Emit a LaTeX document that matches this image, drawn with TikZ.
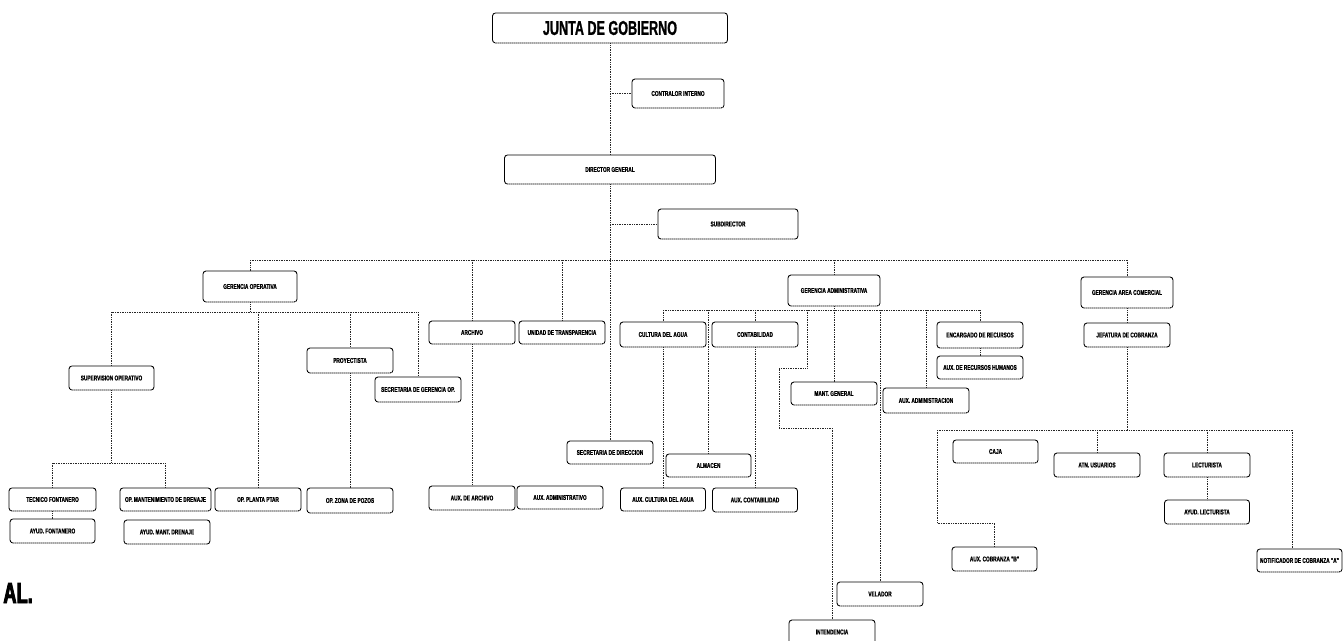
\documentclass[tikz,border=0pt]{standalone}
\usepackage{fontspec}
\newfontfamily\boxfont[FakeStretch=0.68,FakeBold=0.8]{Liberation Sans}
\newfontfamily\titlefont[FakeStretch=0.63,FakeBold=1]{Liberation Sans}
\newfontfamily\heavyfont[FakeStretch=0.63,FakeBold=3]{Liberation Sans}
\tikzset{
  orgbox/.style={draw=black, line width=0.9pt, dash pattern=on 1.6pt off 0.4pt, rounded corners=3pt, inner sep=0pt, fill=white,
    font=\boxfont\bfseries\fontsize{7}{8}\selectfont, align=center},
  conn/.style={draw=black!85, line width=0.7pt, densely dotted},
}
\newcommand\obox[6]{\node[orgbox, minimum width=#4pt, minimum height=#5pt] (#1) at (#2,#3) {#6};}
\begin{document}
\begin{tikzpicture}[x=1pt,y=-1pt]
\clip (0,0) rectangle (1344,640);
\fill[white] (0,0) rectangle (1344,640);
% boxes
\obox{jg}{610}{28}{235}{30}{\titlefont\bfseries\fontsize{20}{22}\selectfont JUNTA DE GOBIERNO}
\obox{ci}{678}{93.5}{92}{29}{CONTRALOR INTERNO}
\obox{dg}{610}{169.5}{211}{29}{DIRECTOR GENERAL}
\obox{sd}{728}{224}{140}{30}{SUBDIRECTOR}
\obox{gop}{250}{286.5}{94}{31}{GERENCIA OPERATIVA}
\obox{arc}{472}{332.5}{86}{23}{ARCHIVO}
\obox{ut}{562}{332.5}{86}{23}{UNIDAD DE TRANSPARENCIA}
\obox{ca}{663}{334.5}{86}{25}{CULTURA DEL AGUA}
\obox{cont}{755}{334.5}{86}{25}{CONTABILIDAD}
\obox{gadm}{834}{290.5}{92}{31}{GERENCIA ADMINISTRATIVA}
\obox{enc}{980}{335}{86}{26}{ENCARGADO DE RECURSOS}
\obox{arh}{980}{367.5}{86}{23}{AUX. DE RECURSOS HUMANOS}
\obox{gac}{1127}{292.5}{92}{31}{GERENCIA AREA COMERCIAL}
\obox{jc}{1127}{335}{86}{24}{JEFATURA DE COBRANZA}
\obox{sop}{111.5}{378}{85}{24}{SUPERVISION OPERATIVO}
\obox{proy}{350}{360.5}{86}{25}{PROYECTISTA}
\obox{sgo}{418}{389.5}{86}{25}{SECRETARIA DE GERENCIA OP.}
\obox{mg}{834}{393.5}{86}{23}{MANT. GENERAL}
\obox{aad}{926}{400.5}{86}{25}{AUX. ADMINISTRACION}
\obox{sdir}{610}{452.5}{86}{23}{SECRETARIA DE DIRECCION}
\obox{alm}{708.5}{465.5}{85}{23}{ALMACEN}
\obox{caja}{995.5}{451.5}{85}{23}{CAJA}
\obox{atn}{1097}{465}{86}{24}{ATN. USUARIOS}
\obox{lect}{1207}{465}{86}{24}{LECTURISTA}
\obox{tf}{52.5}{499.5}{87}{23}{TECNICO FONTANERO}
\obox{omd}{165.5}{499.5}{91}{23}{OP. MANTENIMIENTO DE DRENAJE}
\obox{opp}{258}{499.5}{86}{23}{OP. PLANTA PTAR}
\obox{ozp}{350}{500.5}{86}{25}{OP. ZONA DE POZOS}
\obox{aarc}{472}{498}{86}{24}{AUX. DE ARCHIVO}
\obox{aadm}{560}{497.5}{86}{23}{AUX. ADMINISTRATIVO}
\obox{aca}{663}{499.5}{85}{23}{AUX. CULTURA DEL AGUA}
\obox{acont}{755}{500}{85}{24}{AUX. CONTABILIDAD}
\obox{ayf}{52.5}{531}{85}{24}{AYUD. FONTANERO}
\obox{aymd}{167}{532}{86}{24}{AYUD. MANT. DRENAJE}
\obox{ayl}{1207}{512}{85}{24}{AYUD. LECTURISTA}
\obox{acb}{994.5}{559}{85}{24}{AUX. COBRANZA "B"}
\obox{nc}{1299.5}{560.5}{85}{23}{NOTIFICADOR DE COBRANZA "A"}
\obox{vel}{880}{594}{86}{24}{VELADOR}
\obox{int}{832}{632}{86}{24}{INTENDENCIA}
\node[anchor=base east, inner sep=0pt, font=\heavyfont\bfseries\fontsize{29}{30}\selectfont] (al) at (33,603) {AL.};
% junction coordinates
\coordinate (busL) at (250,260);
\coordinate (busR) at (1127,260);
\coordinate (sbo) at (250,312);
\coordinate (sbt) at (111.5,463);
\coordinate (sba) at (834,310);
\coordinate (jAlm) at (708.5,310);
\coordinate (jInt) at (807,310);
\coordinate (kInt1) at (807,368);
\coordinate (kInt2) at (779,368);
\coordinate (kInt3) at (779,428);
\coordinate (cbL) at (937,430);
\coordinate (cbR) at (1292,430);
\coordinate (kAcb) at (937,523);
% trunk
\draw[conn] (jg.south) -- (dg.north);
\draw[conn] (jg.south |- ci.west) -- (ci.west);
\draw[conn] (dg.south) -- (sdir.north);
\draw[conn] (dg.south |- sd.west) -- (sd.west);
% main bus
\draw[conn] (busL) -- (busR);
\draw[conn] (busL) -- (gop.north);
\draw[conn] (arc.north |- busL) -- (arc.north);
\draw[conn] (ut.north |- busL) -- (ut.north);
\draw[conn] (gadm.north |- busL) -- (gadm.north);
\draw[conn] (busR) -- (gac.north);
% gerencia operativa
\draw[conn] (gop.south) -- (sbo);
\draw[conn] (sop.north |- sbo) -- (sgo.north |- sbo);
\draw[conn] (sop.north |- sbo) -- (sop.north);
\draw[conn] (opp.north |- sbo) -- (opp.north);
\draw[conn] (proy.north |- sbo) -- (proy.north);
\draw[conn] (sgo.north |- sbo) -- (sgo.north);
\draw[conn] (proy.south) -- (ozp.north);
\draw[conn] (sop.south) -- (sbt);
\draw[conn] (tf.north |- sbt) -- (omd.north |- sbt);
\draw[conn] (tf.north |- sbt) -- (tf.north);
\draw[conn] (omd.north |- sbt) -- (omd.north);
\draw[conn] (tf.south) -- (ayf.north);
\draw[conn] (arc.south) -- (aarc.north);
% gerencia administrativa
\draw[conn] (gadm.south) -- (sba);
\draw[conn] (ca.north |- sba) -- (enc.north |- sba);
\draw[conn] (ca.north |- sba) -- (ca.north);
\draw[conn] (jAlm) -- (alm.north);
\draw[conn] (cont.north |- sba) -- (cont.north);
\draw[conn] (sba) -- (mg.north);
\draw[conn] (vel.north |- sba) -- (vel.north);
\draw[conn] (aad.north |- sba) -- (aad.north);
\draw[conn] (enc.north |- sba) -- (enc.north);
\draw[conn] (enc.south) -- (arh.north);
\draw[conn] (ca.south) -- (aca.north);
\draw[conn] (cont.south) -- (acont.north);
\draw[conn] (jInt) -- (kInt1) -- (kInt2) -- (kInt3) -- (int.north |- kInt3) -- (int.north);
% gerencia comercial
\draw[conn] (gac.south) -- (jc.north);
\draw[conn] (jc.south) -- (jc.south |- cbL);
\draw[conn] (cbL) -- (cbR);
\draw[conn] (cbL) -- (kAcb) -- (acb.north |- kAcb) -- (acb.north);
\draw[conn] (atn.north |- cbL) -- (atn.north);
\draw[conn] (lect.north |- cbL) -- (lect.north);
\draw[conn] (cbR) -- (cbR |- nc.north);
\draw[conn] (lect.south) -- (ayl.north);
\end{tikzpicture}
\end{document}
